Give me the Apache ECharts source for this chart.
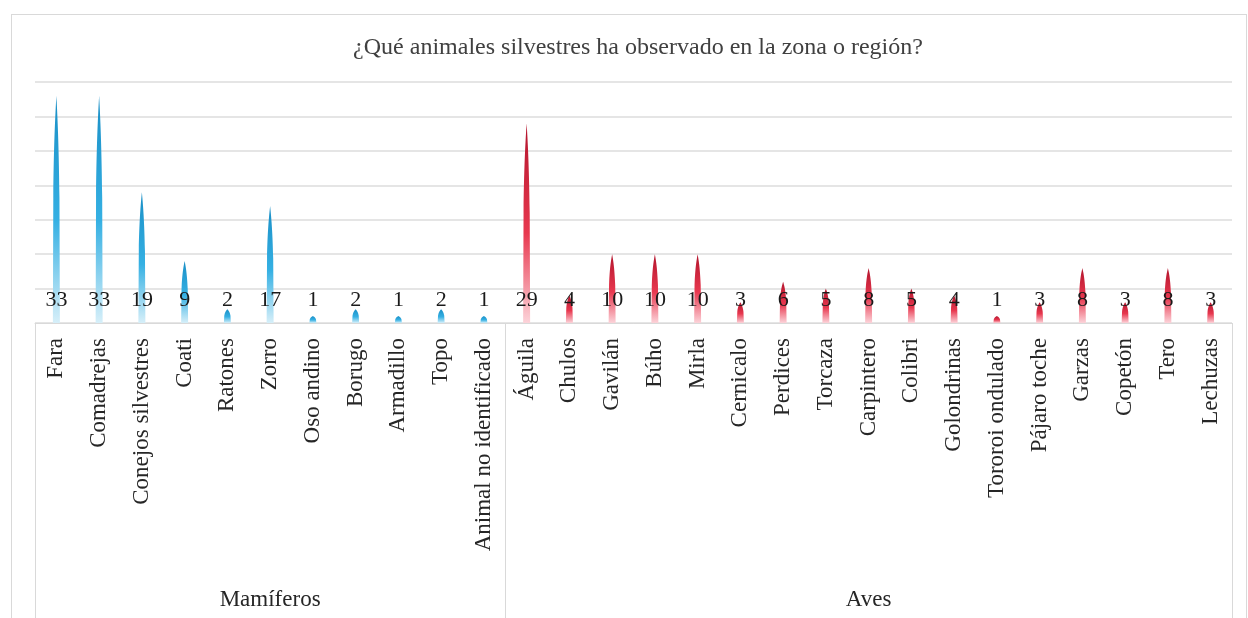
<!DOCTYPE html>
<html>
<head>
<meta charset="utf-8">
<script src="https://cdn.jsdelivr.net/npm/echarts@6/dist/echarts.min.js"></script>
<style>
  html, body { margin: 0; padding: 0; background: #ffffff; }
  #frame { position: absolute; left: 11px; top: 14px; width: 1236px; height: 620px; border: 1px solid #d9d9d9; box-sizing: border-box; }
  #chart { position: absolute; left: 0; top: 0; width: 1248px; height: 618px; }
</style>
</head>
<body>
<div id="frame"></div>
<div id="chart"></div>
<script>
// ---- Data ----
const titleText = '¿Qué animales silvestres ha observado en la zona o región?';
const groupNames = ['Mamíferos', 'Aves'];
const mamiferosCategories = ['Fara', 'Comadrejas', 'Conejos silvestres', 'Coati', 'Ratones', 'Zorro', 'Oso andino', 'Borugo', 'Armadillo', 'Topo', 'Animal no identificado'];
const mamiferosValues = [33, 33, 19, 9, 2, 17, 1, 2, 1, 2, 1];
const avesCategories = ['Águila', 'Chulos', 'Gavilán', 'Búho', 'Mirla', 'Cernicalo', 'Perdices', 'Torcaza', 'Carpintero', 'Colibri', 'Golondrinas', 'Tororoi ondulado', 'Pájaro toche', 'Garzas', 'Copetón', 'Tero', 'Lechuzas'];
const avesValues = [29, 4, 10, 10, 10, 3, 6, 5, 8, 5, 4, 1, 3, 8, 3, 8, 3];
const yMin = 0, yMax = 35, yInterval = 5;

// ---- Derived ----
const categories = mamiferosCategories.concat(avesCategories);
const groupSizes = [mamiferosCategories.length, avesCategories.length];
const groupStarts = [0, mamiferosCategories.length];
const groupLabelIndex = {};
groupStarts.forEach((s, i) => { groupLabelIndex[s + Math.floor(groupSizes[i] / 2)] = groupNames[i]; });
const mamSeriesData = mamiferosValues.concat(avesValues.map(() => '-'));
const avesSeriesData = mamiferosValues.map(() => '-').concat(avesValues);

const spike = 'path://M0,100 L0.6,45 C1.5,18 4,6 5,0 C6,6 8.5,18 9.4,45 L10,100 Z';
const serif = '"Liberation Serif", "DejaVu Serif", serif';

function grad(top, mid, bottom) {
  return { type: 'linear', x: 0, y: 0, x2: 0, y2: 1,
    colorStops: [{ offset: 0, color: top }, { offset: 0.55, color: mid }, { offset: 1, color: bottom }] };
}
const labelCfg = { show: true, position: 'insideBottom', distance: 12, fontFamily: serif, fontSize: 22, color: '#1a1a1a' };

const chart = echarts.init(document.getElementById('chart'), null, { renderer: 'canvas' });
chart.setOption({
  backgroundColor: 'transparent',
  animation: false,
  title: {
    text: titleText, left: 633, top: 31, textAlign: 'center',
    textStyle: { fontFamily: serif, fontSize: 24, fontWeight: 'normal', color: '#404040' }
  },
  grid: { left: 35, right: 16, top: 82, bottom: 295, containLabel: false },
  xAxis: [
    {
      type: 'category', data: categories, position: 'bottom',
      axisLine: { show: true, lineStyle: { color: '#d9d9d9', width: 1 } },
      axisTick: { show: false },
      axisLabel: { rotate: 90, margin: 15, interval: 0, fontFamily: serif, fontSize: 23, color: '#262626' }
    },
    {
      type: 'category', data: categories, position: 'bottom',
      axisLine: { show: false },
      axisTick: { show: true, length: 300, interval: (idx) => groupStarts.indexOf(idx) >= 0, lineStyle: { color: '#d9d9d9', width: 1 } },
      axisLabel: {
        show: true, margin: 265, interval: (idx) => groupLabelIndex[idx] !== undefined,
        formatter: (v, idx) => groupLabelIndex[idx] || '',
        fontFamily: serif, fontSize: 23, color: '#262626'
      }
    }
  ],
  yAxis: {
    type: 'value', min: yMin, max: yMax, interval: yInterval,
    axisLabel: { show: false }, axisLine: { show: false }, axisTick: { show: false },
    splitLine: { show: true, lineStyle: { color: '#dcdcdc', width: 1.5 } }
  },
  series: [
    {
      name: groupNames[0], type: 'pictorialBar', xAxisIndex: 0,
      symbol: spike, symbolSize: [7, '100%'], symbolPosition: 'start',
      itemStyle: { color: grad('#1a8fc6', '#35b0e3', '#d6eff9') },
      label: labelCfg,
      data: mamSeriesData
    },
    {
      name: groupNames[1], type: 'pictorialBar', xAxisIndex: 0,
      symbol: spike, symbolSize: [7, '100%'], symbolPosition: 'start',
      itemStyle: { color: grad('#b3152d', '#e8384f', '#fcd3d9') },
      label: labelCfg,
      data: avesSeriesData
    }
  ]
});
</script>
</body>
</html>
